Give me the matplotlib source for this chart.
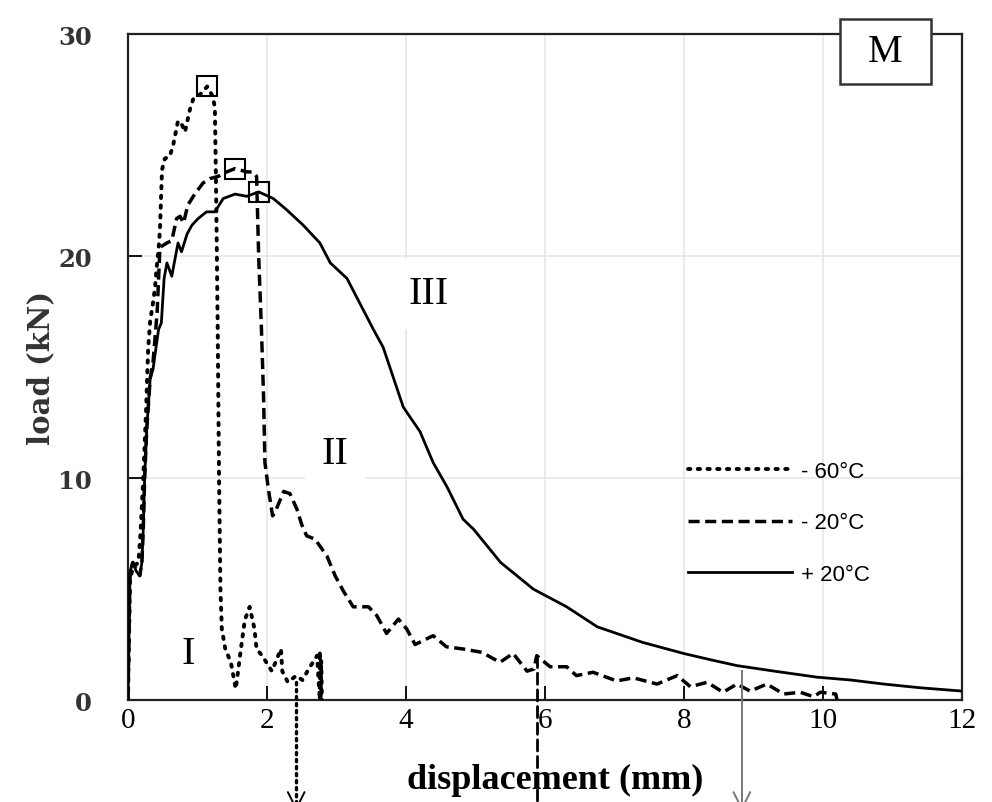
import numpy as np
import matplotlib
matplotlib.use("Agg")
import matplotlib.pyplot as plt
from matplotlib.patches import Rectangle

# -60 C (dotted)
m60_x = [0, 0.03, 0.08, 0.15, 0.18, 0.22, 0.26, 0.29, 0.32, 0.36, 0.39, 0.41, 0.44, 0.46,
         0.49, 0.53, 0.60, 0.65, 0.72, 0.78, 0.82, 0.89, 0.94, 1.04, 1.14, 1.22, 1.25, 1.27,
         1.29, 1.31, 1.33, 1.35, 1.40, 1.48, 1.55, 1.58, 1.62, 1.68, 1.75, 1.82, 1.85, 1.93,
         2.07, 2.20, 2.22, 2.30, 2.42, 2.51, 2.60, 2.72, 2.76, 2.76, 2.77, 2.78, 2.79]
m60_y = [0, 5.5, 6.0, 6.2, 7.5, 10, 13, 15.8, 17.1, 17.9, 18.6, 19.4, 20.3, 21.2,
         23.9, 24.4, 24.5, 25.0, 26.1, 25.9, 25.6, 26.6, 27.1, 27.3, 27.65, 27.2, 26.7, 22.4,
         17.0, 10, 5, 3.2, 2.3, 1.7, 0.5, 1.2, 2.2, 3.6, 4.2, 3.2, 2.3, 2.0,
         1.3, 2.3, 1.3, 0.8, 1.1, 0.9, 1.4, 2.0, 0.0, 2.2, 0.0, 1.8, 0.0]

# -20 C (dashed)
m20_x = [0, 0.03, 0.07, 0.17, 0.20, 0.22, 0.24, 0.27, 0.32, 0.36, 0.42, 0.46, 0.56, 0.63,
         0.70, 0.75, 0.80, 0.86, 0.96, 1.08, 1.18, 1.30, 1.42, 1.54, 1.71, 1.80, 1.85, 1.88,
         1.92, 1.95, 1.97, 2.02, 2.08, 2.12, 2.24, 2.33, 2.43, 2.50, 2.57, 2.69, 2.86, 2.98,
         3.10, 3.24, 3.46, 3.58, 3.72, 3.89, 4.01, 4.13, 4.39, 4.58, 4.82, 5.09, 5.35, 5.54,
         5.74, 5.84, 5.88, 6.07, 6.31, 6.45, 6.69, 7.03, 7.27, 7.61, 7.90, 8.09, 8.33, 8.56,
         8.76, 8.95, 9.19, 9.43, 9.67, 9.86, 9.96, 10.18, 10.20]
m20_y = [0, 5.8, 6.2, 5.6, 6.2, 7.7, 10, 12.2, 14.5, 15.2, 17.5, 20.4, 20.6, 20.7,
         21.7, 21.8, 21.5, 22.3, 22.8, 23.3, 23.5, 23.6, 23.8, 23.95, 23.8, 23.8, 23.6, 20,
         16.7, 13.7, 10.7, 9.5, 8.3, 8.5, 9.4, 9.3, 8.6, 7.9, 7.4, 7.25, 6.5, 5.6,
         4.9, 4.2, 4.2, 3.8, 3.0, 3.65, 3.2, 2.5, 2.9, 2.4, 2.3, 2.15, 1.7, 2.1,
         1.3, 1.4, 2.0, 1.5, 1.5, 1.1, 1.25, 0.86, 1.0, 0.72, 1.1, 0.6, 0.8, 0.35,
         0.72, 0.4, 0.72, 0.27, 0.35, 0.15, 0.35, 0.27, 0.0]

# +20 C (solid)
p20_x = [0, 0.03, 0.07, 0.12, 0.17, 0.20, 0.22, 0.24, 0.27, 0.32, 0.36, 0.44, 0.48, 0.52,
         0.56, 0.63, 0.72, 0.77, 0.85, 0.92, 1.01, 1.13, 1.25, 1.37, 1.54, 1.71, 1.88, 2.09,
         2.28, 2.52, 2.76, 2.91, 3.15, 3.53, 3.67, 3.96, 4.20, 4.39, 4.59, 4.82, 4.97, 5.36,
         5.83, 6.31, 6.75, 7.40, 7.99, 8.40, 8.76, 9.30, 9.91, 10.40, 10.87, 11.40, 11.93, 12.0]
p20_y = [0, 5.8, 6.2, 5.8, 5.6, 6.2, 7.7, 10, 12.2, 14.5, 14.9, 16.7, 17.0, 19.0,
         19.7, 19.1, 20.6, 20.2, 21.0, 21.4, 21.7, 22.0, 22.0, 22.6, 22.8, 22.7, 22.9, 22.6,
         22.1, 21.4, 20.6, 19.7, 19.0, 16.7, 15.9, 13.2, 12.1, 10.7, 9.6, 8.15, 7.7, 6.2,
         5.0, 4.2, 3.3, 2.6, 2.1, 1.8, 1.55, 1.3, 1.03, 0.9, 0.72, 0.55, 0.42, 0.4]

labels = ["- 60°C", "- 20°C", "+ 20°C"]
styles = [(0, (0.6, 1.9)), (0, (3.2, 1.6)), "-"]
widths = [2.8, 2.5, 2.0]

# where each curve leaves the plot (continuation arrows)
arrow_x = [2.42, 5.88, 8.83]
arrow_top = [0.8, 2.0, 1.3]
arrow_bottom = -5.0

regions = ["I", "II", "III"]
region_x = [0.86, 2.98, 4.32]
region_y = [2.1, 11.1, 18.3]

fig = plt.figure(figsize=(9.92, 8.03), dpi=100)
ax = fig.add_axes([0.129, 0.127, 0.841, 0.829])

series = [(m60_x, m60_y), (m20_x, m20_y), (p20_x, p20_y)]
for (xs, ys), ls, lw, lab in zip(series, styles, widths, labels):
    ax.plot(xs, ys, color="black", linestyle=ls, linewidth=lw, label=lab,
            dash_capstyle="round" if ls == styles[0] else "butt", zorder=3)
    i = int(np.argmax(ys))
    ax.plot(xs[i], ys[i], marker="s", markersize=15, markerfacecolor="none",
            markeredgecolor="black", markeredgewidth=1.5, zorder=4)

# continuation arrows below the axis
arrow_styles = [(0, (0.7, 1.4)), (0, (4, 2)), "-"]
arrow_colors = ["black", "black", "#777777"]
arrow_widths = [2.4, 2.0, 1.4]
for x, top, ls, c, lw in zip(arrow_x, arrow_top, arrow_styles, arrow_colors, arrow_widths):
    ax.plot([x, x], [top, arrow_bottom], color=c, linestyle=ls, linewidth=lw,
            dash_capstyle="round", clip_on=False, zorder=3)
    if ls != arrow_styles[1]:
        ax.annotate("", xy=(x, arrow_bottom), xytext=(x, arrow_bottom + 0.05),
                    arrowprops=dict(arrowstyle="->,head_length=1.2,head_width=0.6",
                                    color=c, lw=1.4),
                    annotation_clip=False)

for t, x, y in zip(regions, region_x, region_y):
    ax.text(x, y, t, fontsize=29, family="Liberation Serif", ha="center", va="center",
            zorder=1.5, bbox=dict(facecolor="white", edgecolor="none", pad=12))

# "M" panel tag sitting on the top frame
ax.add_patch(Rectangle((0.854, 0.925), 0.108, 0.098, transform=ax.transAxes,
                       facecolor="white", edgecolor="#333333", linewidth=1.8,
                       clip_on=False, zorder=6))
ax.text(0.908, 0.974, "M", transform=ax.transAxes, fontsize=28, family="Liberation Serif",
        ha="center", va="center", zorder=7)

ax.set_xlim(0, 12)
ax.set_ylim(0, 30)
ax.set_xticks([0, 2, 4, 6, 8, 10, 12])
ax.set_yticks([0, 10, 20, 30])
ax.set_axisbelow(True)
ax.grid(True, color="#e6e6e6", linewidth=1.1)
ax.tick_params(direction="in", length=10, width=1.3, top=False, right=False)
ax.tick_params(axis="x", pad=5, labelsize=21)
ax.tick_params(axis="y", pad=26, labelsize=17.5)
for lbl in ax.get_xticklabels():
    lbl.set_family("Liberation Serif")
for lbl in ax.get_yticklabels():
    lbl.set_family("DejaVu Serif")
    lbl.set_fontweight("bold")
    lbl.set_color("#333333")
for sp in ax.spines.values():
    sp.set_linewidth(1.6)
    sp.set_color("#222222")

ax.set_xlabel("displacement (mm)", fontsize=26, family="Liberation Serif",
              fontweight="bold", labelpad=20)
ax.xaxis.set_label_coords(0.512, -0.095)
ax.set_ylabel("load (kN)", fontsize=21, family="DejaVu Serif", fontweight="bold",
              labelpad=2, color="#333333")

leg = ax.legend(loc="center left", bbox_to_anchor=(0.671, 0.266), frameon=False,
                prop={"family": "Liberation Sans", "size": 16}, handlelength=4.7,
                handletextpad=0.4, labelspacing=1.38, borderpad=0, borderaxespad=0)

fig.savefig("out.png", dpi=100)
